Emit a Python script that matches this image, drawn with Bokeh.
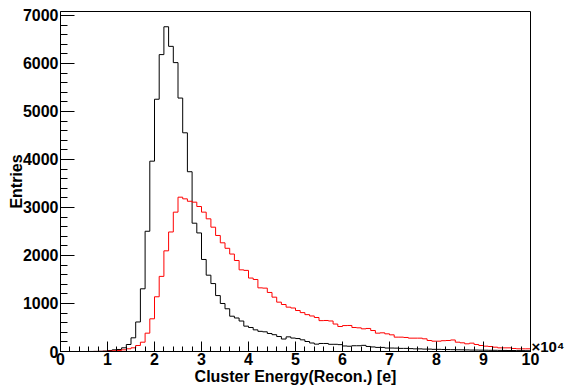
import numpy as np
from bokeh.plotting import figure
from bokeh.models import Range1d, FixedTicker, LinearAxis
from bokeh.embed import file_html
from bokeh.resources import INLINE

# ---- data (x in units of 1e4 e, 100 bins from 0 to 10) ----
n_bins = 100
x_min, x_max = 0.0, 10.0

black_counts = [
    0, 0, 0, 0, 0, 0, 1, 2, 4, 8,
    21, 35, 42, 77, 146, 285, 615, 1306, 2505, 3965,
    5255, 6185, 6765, 6357, 6018, 5280, 4556, 3745, 2673, 2470,
    1917, 1590, 1415, 1165, 1000, 890, 735, 698, 635, 528,
    500, 451, 420, 410, 375, 350, 312, 260, 305, 280,
    270, 243, 208, 177, 153, 167, 167, 150, 150, 143,
    115, 110, 120, 120, 128, 105, 95, 85, 85, 72,
    72, 70, 65, 65, 60, 55, 55, 50, 50, 45,
    45, 42, 40, 38, 36, 35, 33, 30, 30, 28,
    27, 25, 25, 23, 22, 20, 20, 18, 18, 16,
]

red_counts = [
    0, 0, 0, 0, 0, 0, 0, 1, 2, 4,
    10, 15, 22, 35, 56, 77, 125, 194, 382, 681,
    1140, 1565, 2097, 2490, 2903, 3215, 3180, 3130, 3111, 3021,
    2903, 2764, 2590, 2417, 2264, 2150, 2030, 1896, 1701, 1690,
    1530, 1500, 1326, 1320, 1230, 1132, 1028, 979, 924, 906,
    854, 810, 768, 740, 708, 643, 646, 636, 572, 521,
    540, 542, 500, 493, 472, 480, 437, 382, 389, 368,
    347, 299, 299, 292, 278, 278, 278, 264, 229, 215,
    215, 225, 229, 240, 194, 181, 160, 174, 146, 125,
    111, 104, 90, 76, 76, 76, 63, 56, 56, 56,
]

x_ticks = list(range(0, 11))
y_ticks = list(range(0, 7001, 1000))
x_title = "Cluster Energy(Recon.) [e]"
y_title = "Entries"
x_exponent = "\u00d710\u2074"

edges = np.linspace(x_min, x_max, n_bins + 1)
y_top = 7083

p = figure(width=567, height=390, output_backend="svg", toolbar_location=None,
           x_range=Range1d(x_min, x_max), y_range=Range1d(0, y_top),
           min_border_left=60, min_border_right=33, min_border_top=11,
           min_border_bottom=39, background_fill_color="white",
           border_fill_color="white")

p.step(edges, black_counts + [black_counts[-1]], mode="after",
       line_color="black", line_width=1)
p.step(edges, red_counts + [red_counts[-1]], mode="after",
       line_color="#ff0000", line_width=1)

p.grid.visible = False
p.outline_line_color = "black"
p.outline_line_alpha = 1.0
p.outline_line_width = 1

FONT = "Liberation Sans"

p.xaxis.ticker = FixedTicker(ticks=x_ticks,
                             minor_ticks=[round(0.2 * i, 1) for i in range(0, 51)])
p.yaxis.ticker = FixedTicker(ticks=y_ticks,
                             minor_ticks=list(range(0, y_top, 200)))

for ax in (p.xaxis[0], p.yaxis[0]):
    ax.axis_line_color = "black"
    ax.major_tick_line_color = "black"
    ax.minor_tick_line_color = "black"
    ax.major_tick_out = 0
    ax.minor_tick_out = 0
    ax.major_label_text_font = FONT
    ax.major_label_text_font_style = "bold"
    ax.major_label_text_font_size = "16px"
    ax.major_label_text_color = "black"
    ax.axis_label_text_font = FONT
    ax.axis_label_text_font_style = "bold"
    ax.axis_label_text_font_size = "16px"
    ax.axis_label_text_color = "black"

p.xaxis.major_tick_in = 10
p.xaxis.minor_tick_in = 5
p.yaxis.major_tick_in = 14
p.yaxis.minor_tick_in = 7

p.xaxis.major_label_standoff = 1
p.yaxis.major_label_standoff = 2
p.xaxis.axis_label = x_title
p.yaxis.axis_label = y_title
p.xaxis.axis_label_standoff = 0
p.yaxis.axis_label_standoff = -5

# exponent marker at the right end of the x axis (as a tick label of a bare right axis)
exp_axis = LinearAxis(ticker=FixedTicker(ticks=[100], minor_ticks=[]),
                      major_label_overrides={100: x_exponent})
exp_axis.axis_line_color = None
exp_axis.major_tick_line_color = None
exp_axis.minor_tick_line_color = None
exp_axis.major_tick_in = 0
exp_axis.major_tick_out = 0
exp_axis.major_label_standoff = 1
exp_axis.major_label_text_font = FONT
exp_axis.major_label_text_font_style = "bold"
exp_axis.major_label_text_font_size = "15px"
exp_axis.major_label_text_color = "black"
p.add_layout(exp_axis, "right")

open("out.html", "w").write(file_html(p, INLINE))
